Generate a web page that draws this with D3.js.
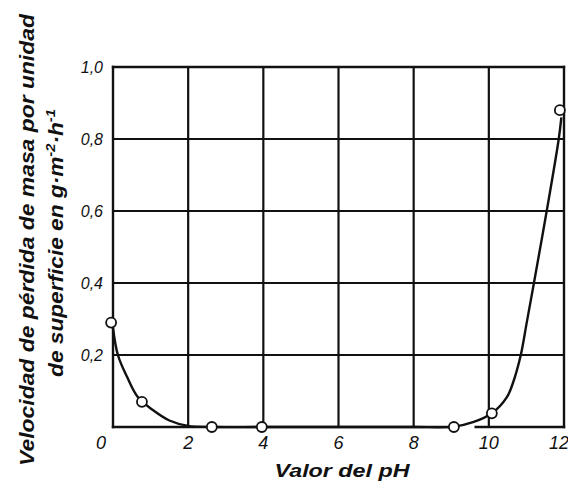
<!DOCTYPE html>
<html><head><meta charset="utf-8">
<script src="https://cdn.jsdelivr.net/npm/d3@7"></script>
<style>
html,body{margin:0;padding:0;background:#fff;}
svg{display:block;}
text{font-family:"Liberation Sans",Arial,sans-serif;fill:#111;}
</style></head>
<body>
<svg id="c" width="568" height="481"></svg>
<script>
// Measured points (pH, mass-loss rate)
const phPoints = [-0.05, 0.77, 2.63, 3.96, 9.07, 10.08, 11.89];
const ratePoints = [0.29, 0.07, 0.0, 0.0, 0.0, 0.038, 0.88];
// Drawn fit curve
const curvePh = [0.0, 0.13, 0.37, 0.66, 1.06, 1.5, 2.0, 2.6, 4, 6, 8, 9.07, 9.6, 10.08, 10.48, 10.65, 10.85, 11.0, 11.2, 11.54, 11.86, 11.93];
const curveRate = [0.275, 0.2, 0.14, 0.083, 0.047, 0.018, 0.003, 0, 0, 0, 0, 0.001, 0.014, 0.038, 0.083, 0.125, 0.2, 0.285, 0.4, 0.6, 0.8, 0.86];
const xTicks = [0, 2, 4, 6, 8, 10, 12];
const yTicks = [0.2, 0.4, 0.6, 0.8, 1.0];
const yTickLabels = ["0,2", "0,4", "0,6", "0,8", "1,0"];
const xTitle = "Valor del pH";
const yTitle1 = "Velocidad de pérdida de masa por unidad";

const svg = d3.select("#c");
const x = d3.scaleLinear().domain([0, 12]).range([113, 564]);
const y = d3.scaleLinear().domain([0, 1]).range([427, 67]);
const INK = "#111";

// grid
const g = svg.append("g");
g.selectAll(".vg").data(xTicks.slice(1, -1)).join("line")
  .attr("x1", d => x(d)).attr("x2", d => x(d)).attr("y1", y(0)).attr("y2", y(1))
  .attr("stroke", INK).attr("stroke-width", 2.2);
g.selectAll(".hg").data(yTicks.slice(0, -1)).join("line")
  .attr("x1", x(0)).attr("x2", x(12)).attr("y1", d => y(d)).attr("y2", d => y(d))
  .attr("stroke", INK).attr("stroke-width", 2.2);
// frame (bottom axis broken where the curve leaves it, as in the original)
const frame = [
  [[0, 1], [12, 1]], [[0, 0], [0, 1]], [[12, 0], [12, 1]],
  [[0, 0], [9.1, 0]], [[9.65, 0], [12, 0]]
];
g.selectAll(".fr").data(frame).join("line")
  .attr("x1", d => x(d[0][0])).attr("y1", d => y(d[0][1]))
  .attr("x2", d => x(d[1][0])).attr("y2", d => y(d[1][1]))
  .attr("stroke", INK).attr("stroke-width", 2.4).attr("stroke-linecap", "square");

// tick labels
svg.selectAll(".xt").data(xTicks).join("text")
  .attr("x", d => d === 0 ? x(0) - 12 : (d === 12 ? x(12) - 5 : x(d)))
  .attr("y", 449)
  .attr("text-anchor", "middle").attr("font-size", 18).attr("font-style", "italic")
  .text(d => String(d));
svg.selectAll(".yt").data(yTicks).join("text")
  .attr("x", 103).attr("y", d => y(d) + 6)
  .attr("text-anchor", "end").attr("font-size", 16).attr("font-style", "italic")
  .text((d, i) => yTickLabels[i]);

// curve
const line = d3.line().x((d, i) => x(curvePh[i])).y((d, i) => y(Math.max(0, curveRate[i])))
  .curve(d3.curveCatmullRom.alpha(0.5));
svg.append("path").datum(curvePh).attr("d", line).attr("fill", "none")
  .attr("stroke", INK).attr("stroke-width", 2.4);

// points
svg.selectAll(".pt").data(phPoints).join("circle")
  .attr("cx", d => x(d)).attr("cy", (d, i) => y(ratePoints[i])).attr("r", 5)
  .attr("fill", "#fff").attr("stroke", INK).attr("stroke-width", 1.8);

// titles, stretched horizontally to the original's wide lettering
function fit(sel, target, tx, ty, rot) {
  const w = sel.node().getComputedTextLength();
  const k = target / w;
  sel.attr("transform", `translate(${tx},${ty}) rotate(${rot}) scale(${k},1)`);
}
const xt = svg.append("text").attr("text-anchor", "middle")
  .attr("font-size", 19).attr("font-weight", "bold").attr("font-style", "italic").text(xTitle);
fit(xt, 135, 342, 477, 0);

const t1 = svg.append("text").attr("text-anchor", "middle")
  .attr("font-size", 20).attr("font-weight", "bold").attr("font-style", "italic")
  .text(yTitle1);
fit(t1, 452, 34, 240, -90);
const t2 = svg.append("text").attr("text-anchor", "middle")
  .attr("font-size", 20).attr("font-weight", "bold").attr("font-style", "italic");
t2.append("tspan").text("de superficie en g·m");
t2.append("tspan").attr("dy", -8).attr("font-size", 13).text("-2");
t2.append("tspan").attr("dy", 8).text("·h");
t2.append("tspan").attr("dy", -8).attr("font-size", 13).text("-1");
fit(t2, 268, 63, 243, -90);
</script>
</body></html>
